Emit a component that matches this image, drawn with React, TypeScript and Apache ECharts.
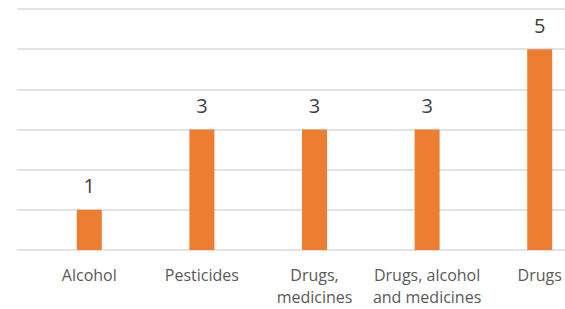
import React, { useEffect, useRef } from "react";
import * as echarts from "echarts";

const categories = ["Alcohol", "Pesticides", "Drugs,\nmedicines", "Drugs, alcohol\nand medicines", "Drugs"];
const values = [1, 3, 3, 3, 5];
const yMax = 6;

export default function App() {
  const ref = useRef<HTMLDivElement>(null);
  useEffect(() => {
    const chart = echarts.init(ref.current!, null, { renderer: "svg" });
    chart.setOption({
      animation: false,
      grid: [
        { left: 33, width: 563, top: 9, bottom: 59, containLabel: false, outerBoundsMode: "none" },
        { left: 17, right: 0, top: 9, bottom: 59, containLabel: false, outerBoundsMode: "none" },
      ],
      xAxis: [
        {
          type: "category",
          gridIndex: 0,
          data: categories,
          axisLine: { show: false },
          axisTick: { show: false },
          axisLabel: {
            fontFamily: "Open Sans",
            fontSize: 16,
            color: "#595959",
            lineHeight: 22,
            margin: 14,
            interval: 0,
          },
        },
        {
          type: "value",
          gridIndex: 1,
          show: false,
        },
      ],
      yAxis: [
        {
          type: "value",
          gridIndex: 0,
          min: 0,
          max: yMax,
          interval: 1,
          show: false,
        },
        {
          type: "value",
          gridIndex: 1,
          min: 0,
          max: yMax,
          interval: 1,
          axisLabel: { show: false },
          axisLine: { show: false },
          axisTick: { show: false },
          splitLine: { show: true, lineStyle: { color: "#d9d9d9", width: 1.5 } },
        },
      ],
      series: [
        {
          type: "bar",
          xAxisIndex: 0,
          yAxisIndex: 0,
          data: values,
          barWidth: 25,
          itemStyle: { color: "#ED7D31" },
          label: {
            show: true,
            position: "top",
            distance: 14,
            fontFamily: "Open Sans",
            fontSize: 20,
            lineHeight: 20,
            color: "#404040",
          },
        },
      ],
    });
    return () => chart.dispose();
  }, []);
  return <div ref={ref} style={{ width: 565, height: 309, position: "absolute", left: 0, top: 0 }} />;
}
